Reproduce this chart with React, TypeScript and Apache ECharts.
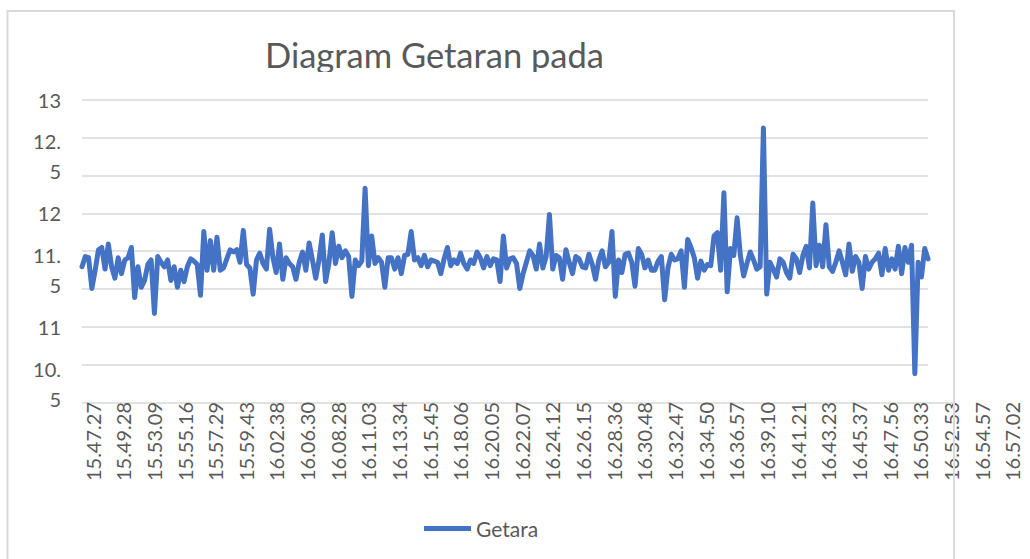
import React, { useEffect, useRef } from "react";
import * as echarts from "echarts";

// Tick labels on the time axis (as printed in the reference)
const timeLabels = [
  "15.47.27", "15.49.28", "15.53.09", "15.55.16", "15.57.29", "15.59.43",
  "16.02.38", "16.06.30", "16.08.28", "16.11.03", "16.13.34", "16.15.45",
  "16.18.06", "16.20.05", "16.22.07", "16.24.12", "16.26.15", "16.28.36",
  "16.30.48", "16.32.47", "16.34.50", "16.36.57", "16.39.10", "16.41.21",
  "16.43.23", "16.45.37", "16.47.56", "16.50.33", "16.52.53", "16.54.57",
  "16.57.02",
];

// Vibration readings in four stretches
const getaranPart1 = [
  11.53, 11.62, 11.61, 11.34, 11.5, 11.68, 11.7, 11.51, 11.73, 11.53, 11.43, 11.61,
  11.47, 11.59, 11.61, 11.7, 11.26, 11.53, 11.35, 11.41, 11.55, 11.59, 11.12, 11.62,
  11.57, 11.53, 11.59, 11.41, 11.53, 11.35, 11.5, 11.4, 11.53, 11.6, 11.58, 11.55,
  11.28, 11.84, 11.5, 11.76, 11.5, 11.79, 11.5, 11.52, 11.6, 11.68, 11.66, 11.68,
  11.57, 11.85, 11.55, 11.52, 11.29, 11.59, 11.65, 11.56, 11.51, 11.86, 11.61, 11.48,
  11.73, 11.42, 11.61, 11.56,
];
const getaranPart2 = [
  11.53, 11.42, 11.57, 11.66, 11.5, 11.74, 11.59, 11.43, 11.59, 11.81, 11.4, 11.56,
  11.83, 11.56, 11.71, 11.61, 11.67, 11.62, 11.27, 11.59, 11.54, 11.58, 12.22, 11.54,
  11.8, 11.56, 11.61, 11.57, 11.35, 11.61, 11.61, 11.51, 11.61, 11.47, 11.63, 11.64,
  11.84, 11.59, 11.61, 11.54, 11.63, 11.53, 11.59, 11.58, 11.57, 11.47, 11.6, 11.7,
  11.54, 11.59, 11.56, 11.65, 11.56, 11.51, 11.59, 11.56, 11.66, 11.61, 11.52, 11.62,
  11.54, 11.6, 11.59, 11.4, 11.8, 11.52, 11.6,
];
const getaranPart3 = [
  11.61, 11.56, 11.34, 11.47, 11.57, 11.67, 11.63, 11.51, 11.73, 11.52, 11.62, 11.99,
  11.51, 11.63, 11.61, 11.42, 11.68, 11.57, 11.47, 11.62, 11.6, 11.53, 11.52, 11.64,
  11.55, 11.42, 11.59, 11.67, 11.53, 11.57, 11.84, 11.27, 11.59, 11.48, 11.64, 11.65,
  11.57, 11.36, 11.69, 11.64, 11.52, 11.59, 11.5, 11.5, 11.58, 11.62, 11.24, 11.52,
  11.64, 11.59, 11.6, 11.67, 11.35, 11.77, 11.7, 11.61, 11.43, 11.58, 11.5, 11.55,
  11.54, 11.8, 11.83, 11.5, 12.18, 11.31,
];
const getaranPart4 = [
  11.69, 11.63, 11.96, 11.63, 11.45, 11.56, 11.66, 11.59, 11.51, 11.53, 12.75, 11.29,
  11.57, 11.51, 11.44, 11.6, 11.57, 11.48, 11.43, 11.64, 11.6, 11.48, 11.63, 11.71,
  11.52, 12.09, 11.54, 11.72, 11.53, 11.9, 11.53, 11.49, 11.57, 11.67, 11.57, 11.46,
  11.73, 11.49, 11.62, 11.57, 11.34, 11.62, 11.51, 11.57, 11.6, 11.65, 11.46, 11.69,
  11.5, 11.6, 11.51, 11.71, 11.47, 11.7, 11.57, 11.72, 10.59, 11.57, 11.44, 11.69,
  11.6,
];

const seriesName = "Getara";
const titleText = "Diagram Getaran pada";
const yMin = 31 / 3;
const yMax = 13;

const FONT = "Lato, Carlito, Calibri, 'Noto Sans', sans-serif";
const TEXT = "#595959";
const GRID = "#d9d9d9";
const BLUE = "#4472C4";

export default function App() {
  const ref = useRef<HTMLDivElement>(null);

  useEffect(() => {
    document.body.style.margin = "0";
    if (!ref.current) return;
    const chart = echarts.init(ref.current, undefined, { renderer: "svg" });

    const values = [...getaranPart1, ...getaranPart2, ...getaranPart3, ...getaranPart4];
    const idx = values.map((_, i) => String(i));

    const yFormatter = (v: number) => {
      const d = v * 2;
      if (Math.abs(d - Math.round(d)) > 1e-6) return "";
      const s = String(Math.round(d) / 2);
      const p = s.indexOf(".");
      return p >= 0 ? s.slice(0, p + 1) + "\n" + s.slice(p + 1) : s;
    };

    chart.setOption({
      animation: false,
      backgroundColor: "#ffffff",
      textStyle: { fontFamily: FONT },
      title: {
        text: titleText,
        left: 260,
        top: 32,
        textStyle: { fontSize: 34.5, fontWeight: "normal", color: TEXT, fontFamily: FONT },
      },
      legend: {
        data: [seriesName],
        left: 419,
        top: 513,
        icon: "rect",
        itemWidth: 47,
        itemHeight: 5,
        textStyle: { fontSize: 21, color: TEXT, fontFamily: FONT },
      },
      grid: [
        { left: 82, top: 99.5, width: 846, height: 303.5 },
        { left: 77.2, top: 99.5, width: 950.5, height: 303.5 },
      ],
      xAxis: [
        {
          gridIndex: 0,
          type: "category",
          data: idx,
          boundaryGap: false,
          axisLine: { show: false },
          axisTick: { show: false },
          axisLabel: { show: false },
          splitLine: { show: false },
        },
        {
          gridIndex: 1,
          type: "category",
          data: timeLabels,
          boundaryGap: true,
          axisLine: { show: false },
          axisTick: { show: false },
          splitLine: { show: false },
          axisLabel: {
            interval: 0,
            rotate: 90,
            margin: -1,
            fontSize: 20,
            color: TEXT,
            fontFamily: FONT,
          },
        },
      ],
      yAxis: [
        {
          gridIndex: 0,
          type: "value",
          min: yMin,
          max: yMax,
          interval: 1 / 3,
          axisLine: { show: false },
          axisTick: { show: false },
          axisLabel: { show: false },
          splitLine: { show: true, lineStyle: { color: GRID, width: 1.5 } },
        },
        {
          gridIndex: 0,
          type: "value",
          position: "left",
          min: yMin,
          max: yMax,
          interval: 1 / 6,
          axisLine: { show: false },
          axisTick: { show: false },
          splitLine: { show: false },
          axisLabel: {
            formatter: yFormatter,
            margin: 21,
            fontSize: 20,
            lineHeight: 30,
            padding: [4, 0, 0, 0],
            color: TEXT,
            fontFamily: FONT,
            align: "right",
          },
        },
        {
          gridIndex: 1,
          type: "value",
          min: 0,
          max: 1,
          show: false,
        },
      ],
      graphic: [
        {
          type: "rect",
          z: 100,
          shape: { x: 250, y: 72, width: 380, height: 24 },
          style: { fill: "#ffffff" },
          silent: true,
        },
        {
          type: "rect",
          z: 100,
          shape: { x: 7.5, y: 11, width: 946.5, height: 620 },
          style: { fill: "none", stroke: GRID, lineWidth: 2 },
          silent: true,
        },
        {
          type: "line",
          z: 1,
          shape: { x1: 928, y1: 403, x2: 954, y2: 403 },
          style: { stroke: GRID, lineWidth: 1.5 },
          silent: true,
        },
      ],
      series: [
        {
          name: seriesName,
          type: "line",
          xAxisIndex: 0,
          yAxisIndex: 0,
          data: values,
          showSymbol: false,
          symbol: "none",
          lineStyle: { color: BLUE, width: 5, cap: "round", join: "round" },
          itemStyle: { color: BLUE },
        },
      ],
    });

    return () => chart.dispose();
  }, []);

  return (
    <div
      ref={ref}
      style={{ position: "absolute", left: 0, top: 0, width: 1030, height: 559 }}
    />
  );
}
